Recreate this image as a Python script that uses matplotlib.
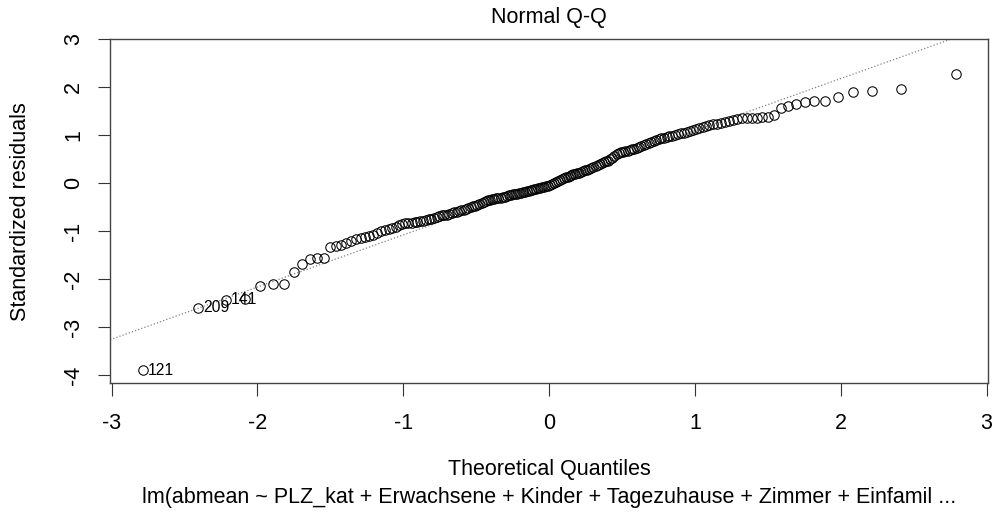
import matplotlib.pyplot as plt
from statistics import NormalDist

plt.rcParams['font.family'] = ['Liberation Sans', 'DejaVu Sans']

# sorted standardized residuals
std_resid = [
    -3.89, -2.59, -2.43, -2.42, -2.15, -2.10, -2.09, -1.86, -1.68, -1.59,
    -1.55, -1.55, -1.32, -1.30, -1.28, -1.24, -1.21, -1.17, -1.15, -1.12,
    -1.10, -1.07, -1.03, -0.99, -0.97, -0.95, -0.93, -0.91, -0.88, -0.86,
    -0.84, -0.83, -0.82, -0.81, -0.80, -0.79, -0.78, -0.77, -0.75, -0.74,
    -0.72, -0.70, -0.69, -0.67, -0.66, -0.66, -0.64, -0.62, -0.61, -0.60,
    -0.58, -0.57, -0.55, -0.54, -0.52, -0.50, -0.48, -0.47, -0.45, -0.43,
    -0.41, -0.40, -0.38, -0.36, -0.35, -0.34, -0.33, -0.32, -0.31, -0.30,
    -0.29, -0.28, -0.26, -0.25, -0.24, -0.23, -0.22, -0.22, -0.21, -0.20,
    -0.19, -0.18, -0.17, -0.16, -0.15, -0.14, -0.13, -0.12, -0.11, -0.10,
    -0.09, -0.08, -0.07, -0.05, -0.03, -0.01, 0.01, 0.02, 0.04, 0.06,
    0.08, 0.10, 0.12, 0.13, 0.15, 0.16, 0.18, 0.19, 0.21, 0.22,
    0.24, 0.25, 0.27, 0.28, 0.30, 0.31, 0.33, 0.35, 0.37, 0.39,
    0.41, 0.43, 0.45, 0.47, 0.50, 0.53, 0.56, 0.60, 0.63, 0.64,
    0.65, 0.66, 0.67, 0.68, 0.70, 0.72, 0.74, 0.76, 0.77, 0.79,
    0.81, 0.83, 0.85, 0.87, 0.89, 0.91, 0.93, 0.94, 0.96, 0.97,
    0.99, 1.00, 1.02, 1.04, 1.05, 1.07, 1.09, 1.11, 1.12, 1.14,
    1.16, 1.18, 1.20, 1.22, 1.24, 1.26, 1.28, 1.30, 1.32, 1.34,
    1.35, 1.35, 1.36, 1.36, 1.37, 1.38, 1.42, 1.56, 1.60, 1.64,
    1.68, 1.70, 1.71, 1.80, 1.89, 1.92, 1.95, 2.27,
]
# labelled extreme points (index in sorted order -> observation id)
point_ids = {0: '121', 1: '209', 2: '141'}
# reference line (qqline)
line_intercept = 0.006
line_slope = 1.085

x_ticks = [-3, -2, -1, 0, 1, 2, 3]
y_ticks = [-4, -3, -2, -1, 0, 1, 2, 3]

# theoretical normal quantiles, R ppoints style
n = len(std_resid)
nd = NormalDist()
theo = [nd.inv_cdf((i + 0.5) / n) for i in range(n)]

fig = plt.figure(figsize=(9.95, 5.14), dpi=100)
ax = fig.add_axes([0.1106, 0.2549, 0.8824, 0.6693])

ax.axline((0, line_intercept), slope=line_slope, color='gray', linestyle=':', linewidth=0.9)
ax.plot(theo, std_resid, 'o', markerfacecolor='none', markeredgecolor='black',
        markersize=6.8, markeredgewidth=0.75)

for idx, lab in point_ids.items():
    ax.annotate(lab, (theo[idx], std_resid[idx]), xytext=(4, 0),
                textcoords='offset points', va='center', ha='left', fontsize=11.3)

ax.set_xlim(-3.01, 3.01)
ax.set_ylim(-4.16, 3.0)
ax.set_xticks(x_ticks)
ax.set_yticks(y_ticks)
ax.set_xticklabels([str(t) for t in x_ticks])
ax.set_yticklabels([str(t) for t in y_ticks], rotation=90, va='center')
ax.tick_params(axis='both', direction='out', length=9, width=0.8, color='#333333',
               labelsize=15.5)
ax.tick_params(axis='x', pad=12.5)
ax.tick_params(axis='y', pad=9.5)
for s in ax.spines.values():
    s.set_color('#444444')
    s.set_linewidth(1.0)

fig.text(0.552, 0.965, 'Normal Q-Q', ha='center', va='center', fontsize=15.5)
fig.text(0.552, 0.086, 'Theoretical Quantiles', ha='center', va='center', fontsize=15.5)
fig.text(0.552, 0.033, 'lm(abmean ~ PLZ_kat + Erwachsene + Kinder + Tagezuhause + Zimmer + Einfamil ...',
         ha='center', va='center', fontsize=15.5)
fig.text(0.021, 0.589, 'Standardized residuals', ha='center', va='center',
         rotation=90, fontsize=15.5)

fig.savefig('out.png', dpi=100)
